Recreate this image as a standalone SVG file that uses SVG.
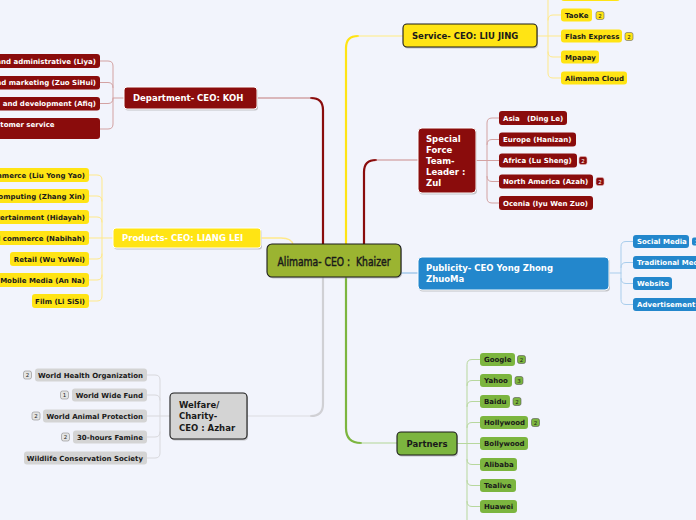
<svg xmlns="http://www.w3.org/2000/svg" width="696" height="520" viewBox="0 0 696 520">
<style>
text{font-family:"DejaVu Sans",Verdana,sans-serif;font-weight:bold}
.t1{font-size:8.5px}
.t2{font-size:7px}
.bd{font-size:5.5px;font-weight:normal;text-anchor:middle}
.w{fill:#ffffff}
.k{fill:#1a1a1a}
.e{text-anchor:end}
.red{fill:#8a0c0c}
.yel{fill:#ffe414}
.blu{fill:#2387cc}
.grn{fill:#7cb53f}
.gry{fill:#d4d4d4}
.sh{fill:#9a9a9a;opacity:.55}
.lb{stroke:#ffffff;stroke-width:1}
.kb{stroke:#1a1a1a;stroke-width:1.1}
</style>
<rect width="696" height="520" fill="#f2f4fc"/>
<g id="connectors" fill="none" stroke-linecap="round">
  <path d="M323,244 V110 Q323,98 311,98" stroke="#8a0c0c" stroke-width="2.2"/>
  <path d="M311,98 H258" stroke="#c27a7a" stroke-width="1.2"/>
  <path d="M346,244 V48 Q346,36 358,36" stroke="#ffe414" stroke-width="2.2"/>
  <path d="M358,36 H403" stroke="#ffeb80" stroke-width="1.2"/>
  <path d="M364,244 V172 Q364,160 376,160" stroke="#8a0c0c" stroke-width="2.2"/>
  <path d="M376,160 H418" stroke="#c98a8a" stroke-width="1.2"/>
  <path d="M346,277 V428 Q346,443 361,443" stroke="#7cb53f" stroke-width="2.2"/>
  <path d="M361,443 H397" stroke="#b2d595" stroke-width="1.2"/>
  <path d="M323,277 V404 Q323,416 311,416" stroke="#d0d0d4" stroke-width="2.2"/>
  <path d="M311,416 H247" stroke="#dcdce0" stroke-width="1.2"/>
  <path d="M261,238 H281 Q292,238 293,245" stroke="#ffe98a" stroke-width="1.4"/>
  <path d="M401,273 H418" stroke="#a5c9ea" stroke-width="1.4"/>
  <g stroke="#d3a2a2" stroke-width="1">
    <path d="M124,98 H113"/>
    <path d="M100,61 H108 Q113,61 113,66 V124 Q113,129 108,129 H100"/>
    <path d="M100,82.5 H108 Q113,82.5 113,87.5"/>
    <path d="M100,103.5 H108 Q113,103.5 113,98.5"/>
  </g>
  <g stroke="#ffe98a" stroke-width="1">
    <path d="M113,238 H89"/>
    <path d="M89,175 H97 Q102,175 102,180 V296 Q102,301 97,301 H89"/>
    <path d="M89,196 H97 Q102,196 102,201"/>
    <path d="M89,217 H97 Q102,217 102,222"/>
    <path d="M89,259 H97 Q102,259 102,254"/>
    <path d="M89,280 H97 Q102,280 102,275"/>
  </g>
  <g stroke="#d8d8dc" stroke-width="1">
    <path d="M170,416 H147"/>
    <path d="M147,375 H155 Q160,375 160,380 V453 Q160,458 155,458 H147"/>
    <path d="M147,395 H155 Q160,395 160,400"/>
    <path d="M147,437 H155 Q160,437 160,432"/>
  </g>
  <g stroke="#ffe98a" stroke-width="1">
    <path d="M537,36 H561"/>
    <path d="M548,-20 V73 Q548,78 553,78 H561"/>
    <path d="M561,-6 H553 Q548,-6 548,-1"/>
    <path d="M561,15 H553 Q548,15 548,20"/>
    <path d="M561,57 H553 Q548,57 548,52"/>
  </g>
  <g stroke="#d3a2a2" stroke-width="1">
    <path d="M476,160.5 H499"/>
    <path d="M499,118 H492 Q487,118 487,123 V198 Q487,203 492,203 H499"/>
    <path d="M499,139.5 H492 Q487,139.5 487,144.5"/>
    <path d="M499,181.5 H492 Q487,181.5 487,176.5"/>
  </g>
  <g stroke="#a9cdec" stroke-width="1">
    <path d="M609,273 H621"/>
    <path d="M633,241.5 H626 Q621,241.5 621,246.5 V299.5 Q621,304.5 626,304.5 H633"/>
    <path d="M633,262.5 H626 Q621,262.5 621,267.5"/>
    <path d="M633,283.5 H626 Q621,283.5 621,278.5"/>
  </g>
  <g stroke="#b7d79d" stroke-width="1">
    <path d="M457,443.5 H480"/>
    <path d="M480,359.5 H472 Q467,359.5 467,364.5 V525"/>
    <path d="M480,380.5 H472 Q467,380.5 467,385.5"/>
    <path d="M480,401.5 H472 Q467,401.5 467,406.5"/>
    <path d="M480,422.5 H472 Q467,422.5 467,427.5"/>
    <path d="M480,464.5 H472 Q467,464.5 467,459.5"/>
    <path d="M480,485.5 H472 Q467,485.5 467,480.5"/>
    <path d="M480,506.5 H472 Q467,506.5 467,501.5"/>
  </g>
</g>

<g id="central">
  <rect x="268" y="245.5" width="134" height="33" rx="5" class="sh"/>
  <rect x="267" y="244" width="134" height="33" rx="5" fill="#9bb431" class="kb"/>
  <text x="334" y="265.5" xml:space="preserve" text-anchor="middle" textLength="113" lengthAdjust="spacingAndGlyphs" style="font-family:'DejaVu Sans Condensed','DejaVu Sans',sans-serif;font-weight:normal;font-size:13px;stroke:#1a1a1a;stroke-width:0.45" class="k">Alimama- CEO :  Khaizer</text>
</g>

<g id="department">
  <rect x="125" y="88.5" width="133" height="22" rx="3" class="sh"/>
  <rect x="124" y="87" width="133" height="22" rx="3" class="red lb"/>
  <text x="133" y="101" class="t1 w">Department- CEO: KOH</text>
</g>
<g id="dep-1"><rect x="-60" y="54" width="160" height="14" rx="3" class="red"/><text x="96" y="63.5" class="t2 w e">and administrative (Liya)</text></g>
<g id="dep-2"><rect x="-60" y="76" width="160" height="13.5" rx="3" class="red"/><text x="96" y="85" class="t2 w e">and marketing (Zuo SiHui)</text></g>
<g id="dep-3"><rect x="-60" y="97" width="160" height="13.5" rx="3" class="red"/><text x="96" y="106" class="t2 w e">and development (Afiq)</text></g>
<g id="dep-4"><rect x="-60" y="118" width="160" height="21" rx="3" class="red"/><text x="-14" y="126.5" class="t2 w">Customer service</text></g>

<g id="products">
  <rect x="114" y="229.5" width="148" height="20" rx="3" class="sh"/>
  <rect x="113" y="228" width="148" height="20" rx="3" class="yel lb"/>
  <text x="122" y="241" class="t1 w">Products- CEO: LIANG LEI</text>
</g>
<g id="prod-1"><rect x="-40" y="168" width="129" height="14" rx="3" class="yel"/><text x="85" y="177.5" class="t2 k e">E-commerce (Liu Yong Yao)</text></g>
<g id="prod-2"><rect x="-40" y="189" width="129" height="14" rx="3" class="yel"/><text x="85" y="198.5" class="t2 k e">Cloud computing (Zhang Xin)</text></g>
<g id="prod-3"><rect x="-40" y="210" width="129" height="14" rx="3" class="yel"/><text x="85" y="219.5" class="t2 k e">Entertainment (Hidayah)</text></g>
<g id="prod-4"><rect x="-40" y="231" width="129" height="14" rx="3" class="yel"/><text x="85" y="240.5" class="t2 k e">Social commerce (Nabihah)</text></g>
<g id="prod-5"><rect x="10" y="252" width="79" height="14" rx="3" class="yel"/><text x="85" y="261.5" class="t2 k e">Retail (Wu YuWei)</text></g>
<g id="prod-6"><rect x="-4" y="273" width="93" height="14" rx="3" class="yel"/><text x="85" y="282.5" class="t2 k e">Mobile Media (An Na)</text></g>
<g id="prod-7"><rect x="32" y="294" width="57" height="14" rx="3" class="yel"/><text x="85" y="303.5" class="t2 k e">Film (Li SiSi)</text></g>

<g id="welfare">
  <rect x="171" y="394.5" width="77" height="46" rx="4" class="sh"/>
  <rect x="170" y="393" width="77" height="46" rx="4" class="gry kb"/>
  <text class="t1 k"><tspan x="179" y="407.5">Welfare/</tspan><tspan x="179" y="419">Charity-</tspan><tspan x="179" y="430.5">CEO : Azhar</tspan></text>
</g>
<g id="wel-1"><rect x="35" y="368.5" width="112" height="13" rx="3" class="gry"/><text x="143" y="377.5" class="t2 k e">World Health Organization</text><rect x="23.5" y="371" width="8" height="8" rx="2" fill="#e4e4e4" stroke="#8a8a8a" stroke-width=".6"/><text x="27.5" y="377" class="bd k">2</text></g>
<g id="wel-2"><rect x="72" y="388.5" width="75" height="13" rx="3" class="gry"/><text x="143" y="397.5" class="t2 k e">World Wide Fund</text><rect x="60.5" y="391" width="8" height="8" rx="2" fill="#e4e4e4" stroke="#8a8a8a" stroke-width=".6"/><text x="64.5" y="397" class="bd k">1</text></g>
<g id="wel-3"><rect x="43" y="409.5" width="104" height="13" rx="3" class="gry"/><text x="143" y="418.5" class="t2 k e">World Animal Protection</text><rect x="32" y="412" width="8" height="8" rx="2" fill="#e4e4e4" stroke="#8a8a8a" stroke-width=".6"/><text x="36" y="418" class="bd k">2</text></g>
<g id="wel-4"><rect x="73" y="430.5" width="74" height="13" rx="3" class="gry"/><text x="143" y="439.5" class="t2 k e">30-hours Famine</text><rect x="61.5" y="433" width="8" height="8" rx="2" fill="#e4e4e4" stroke="#8a8a8a" stroke-width=".6"/><text x="65.5" y="439" class="bd k">2</text></g>
<g id="wel-5"><rect x="24" y="451.5" width="123" height="13" rx="3" class="gry"/><text x="143" y="460.5" class="t2 k e">Wildlife Conservation Society</text></g>

<g id="service">
  <rect x="404" y="25.5" width="134" height="23" rx="4" class="sh"/>
  <rect x="403" y="24" width="134" height="23" rx="4" class="yel kb"/>
  <text x="412" y="39" class="t1 k">Service- CEO: LIU JING</text>
</g>
<g id="svc-0"><rect x="561" y="-13" width="59" height="14" rx="3" class="yel"/></g>
<g id="svc-1"><rect x="561" y="8.5" width="31" height="13" rx="3" class="yel"/><text x="565" y="17.5" class="t2 k">TaoKe</text><rect x="596" y="11.5" width="8" height="8" rx="2" fill="#ffe414" stroke="#666" stroke-width=".6"/><text x="600" y="17.5" class="bd k">2</text></g>
<g id="svc-2"><rect x="561" y="29.5" width="61" height="13" rx="3" class="yel"/><text x="565" y="38.5" class="t2 k">Flash Express</text><rect x="625" y="32.5" width="8" height="8" rx="2" fill="#ffe414" stroke="#666" stroke-width=".6"/><text x="629" y="38.5" class="bd k">2</text></g>
<g id="svc-3"><rect x="561" y="50.5" width="38" height="13" rx="3" class="yel"/><text x="565" y="59.5" class="t2 k">Mpapay</text></g>
<g id="svc-4"><rect x="561" y="71.5" width="66" height="13" rx="3" class="yel"/><text x="565" y="80.5" class="t2 k">Alimama Cloud</text></g>

<g id="special-force">
  <rect x="419" y="129.5" width="58" height="65" rx="4" class="sh"/>
  <rect x="418" y="128" width="58" height="65" rx="4" class="red lb"/>
  <text class="t1 w"><tspan x="426" y="141.5">Special</tspan><tspan x="426" y="152.5">Force</tspan><tspan x="426" y="163.5">Team-</tspan><tspan x="426" y="174.5">Leader :</tspan><tspan x="426" y="185.5">Zul</tspan></text>
</g>
<g id="sf-1"><rect x="499" y="111" width="68" height="14" rx="3" class="red"/><text x="503" y="120.5" xml:space="preserve" class="t2 w">Asia   (Ding Le)</text></g>
<g id="sf-2"><rect x="499" y="132.5" width="77" height="14" rx="3" class="red"/><text x="503" y="142" class="t2 w">Europe (Hanizan)</text></g>
<g id="sf-3"><rect x="499" y="153.5" width="78" height="14" rx="3" class="red"/><text x="503" y="163" class="t2 w">Africa (Lu Sheng)</text><rect x="579" y="156.5" width="8" height="8" rx="2" class="red" stroke="#e0b0b0" stroke-width=".6"/><text x="583" y="162.5" class="bd w">2</text></g>
<g id="sf-4"><rect x="499" y="174.5" width="94" height="14" rx="3" class="red"/><text x="503" y="184" class="t2 w">North America (Azah)</text><rect x="596" y="177.5" width="8" height="8" rx="2" class="red" stroke="#e0b0b0" stroke-width=".6"/><text x="600" y="183.5" class="bd w">2</text></g>
<g id="sf-5"><rect x="499" y="196" width="94" height="14" rx="3" class="red"/><text x="503" y="205.5" class="t2 w">Ocenia (Iyu Wen Zuo)</text></g>

<g id="publicity">
  <rect x="419" y="258.5" width="191" height="33" rx="4" class="sh"/>
  <rect x="418" y="257" width="191" height="33" rx="4" class="blu lb"/>
  <text class="t1 w"><tspan x="426" y="271">Publicity- CEO Yong Zhong</tspan><tspan x="426" y="282">ZhuoMa</tspan></text>
</g>
<g id="pub-1"><rect x="633" y="235" width="56" height="13" rx="3" class="blu"/><text x="637" y="244" class="t2 w">Social Media</text><rect x="692" y="237.5" width="9" height="8" rx="2" class="blu"/><text x="696.5" y="243.5" class="bd w">3</text></g>
<g id="pub-2"><rect x="633" y="256" width="80" height="13" rx="3" class="blu"/><text x="637" y="265" class="t2 w">Traditional Media</text></g>
<g id="pub-3"><rect x="633" y="277" width="39" height="13" rx="3" class="blu"/><text x="637" y="286" class="t2 w">Website</text></g>
<g id="pub-4"><rect x="633" y="298" width="70" height="13" rx="3" class="blu"/><text x="637" y="307" class="t2 w">Advertisement</text></g>

<g id="partners">
  <rect x="398" y="433.5" width="60" height="23" rx="4" class="sh"/>
  <rect x="397" y="432" width="60" height="23" rx="4" class="grn kb"/>
  <text x="427" y="446.5" text-anchor="middle" class="t1 k">Partners</text>
</g>
<g id="par-1"><rect x="480" y="353" width="35" height="13" rx="3" class="grn"/><text x="484" y="362" class="t2 k">Google</text><rect x="517.5" y="355.5" width="8" height="8" rx="2" class="grn" stroke="#555" stroke-width=".6"/><text x="521.5" y="361.5" class="bd k">2</text></g>
<g id="par-2"><rect x="480" y="374" width="32" height="13" rx="3" class="grn"/><text x="484" y="383" class="t2 k">Yahoo</text><rect x="515" y="376.5" width="8" height="8" rx="2" class="grn" stroke="#555" stroke-width=".6"/><text x="519" y="382.5" class="bd k">3</text></g>
<g id="par-3"><rect x="480" y="395" width="30" height="13" rx="3" class="grn"/><text x="484" y="404" class="t2 k">Baidu</text><rect x="513" y="397.5" width="8" height="8" rx="2" class="grn" stroke="#555" stroke-width=".6"/><text x="517" y="403.5" class="bd k">2</text></g>
<g id="par-4"><rect x="480" y="416" width="48" height="13" rx="3" class="grn"/><text x="484" y="425" class="t2 k">Hollywood</text><rect x="531.5" y="418.5" width="8" height="8" rx="2" class="grn" stroke="#555" stroke-width=".6"/><text x="535.5" y="424.5" class="bd k">2</text></g>
<g id="par-5"><rect x="480" y="437" width="48" height="13" rx="3" class="grn"/><text x="484" y="446" class="t2 k">Bollywood</text></g>
<g id="par-6"><rect x="480" y="458" width="37" height="13" rx="3" class="grn"/><text x="484" y="467" class="t2 k">Alibaba</text></g>
<g id="par-7"><rect x="480" y="479" width="36" height="13" rx="3" class="grn"/><text x="484" y="488" class="t2 k">Tealive</text></g>
<g id="par-8"><rect x="480" y="500" width="37" height="13" rx="3" class="grn"/><text x="484" y="509" class="t2 k">Huawei</text></g>
</svg>
